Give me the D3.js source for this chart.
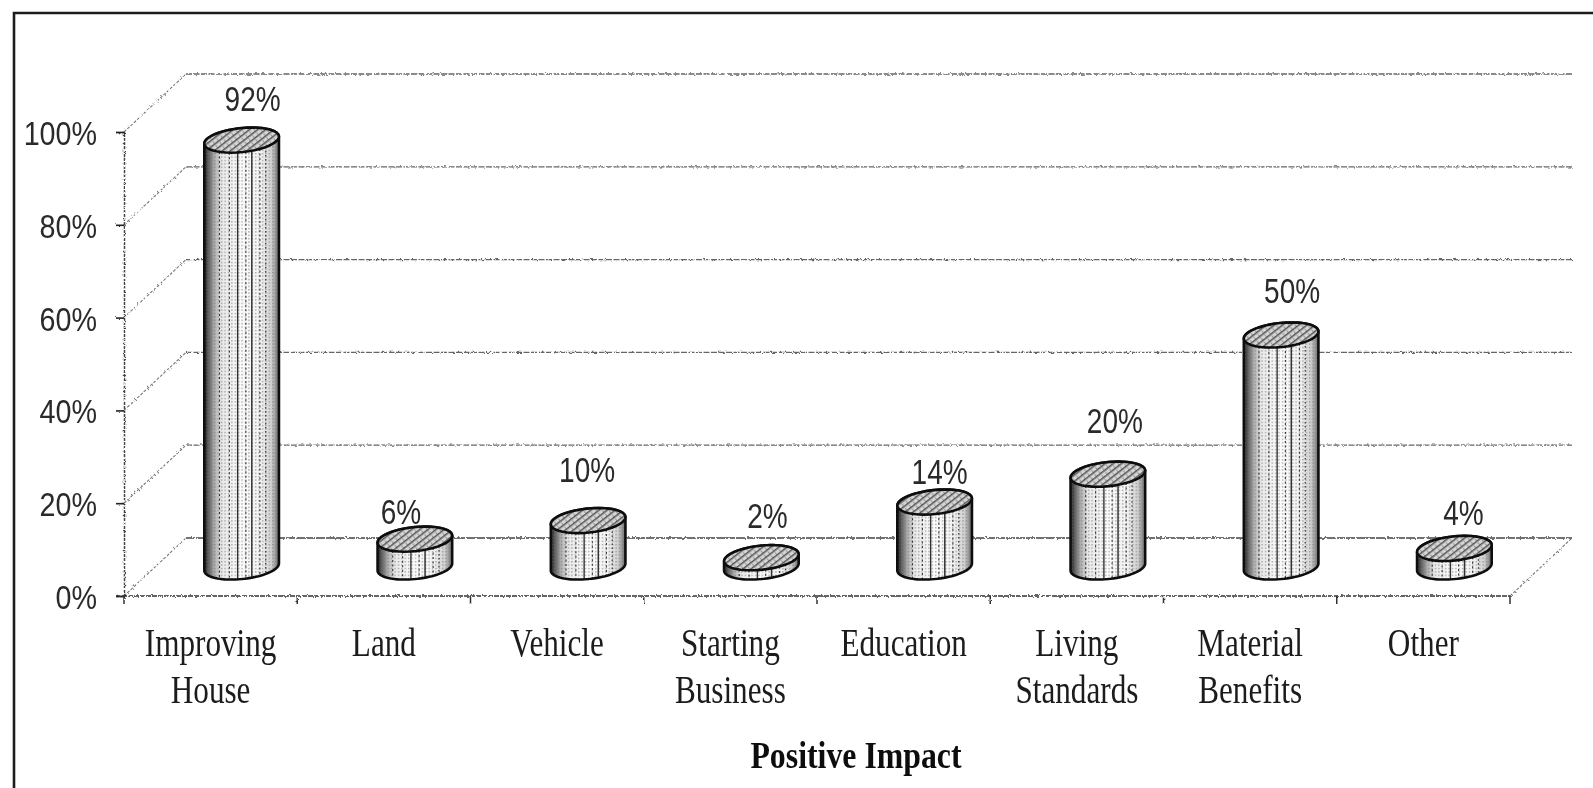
<!DOCTYPE html>
<html><head><meta charset="utf-8">
<script src="https://cdn.jsdelivr.net/npm/d3@7"></script>
<style>html,body{margin:0;padding:0;background:#fff;overflow:hidden}svg{display:block}</style>
</head><body><svg id="c" width="1593" height="788"></svg>
<script>
const categories = ["Improving House","Land","Vehicle","Starting Business","Education","Living Standards","Material Benefits","Other"];
const categoryLines = [["Improving","House"],["Land"],["Vehicle"],["Starting","Business"],["Education"],["Living","Standards"],["Material","Benefits"],["Other"]];
const values = [92,6,10,2,14,20,50,4];
const yTicks = [0,20,40,60,80,100];
const xTitle = "Positive Impact";
// hand placement of the value labels relative to each cylinder top
const labelNudgeX = [11,-14,-1,6,5,7,11,9];
const labelNudgeY = [-42,-28,-52,-43,-31,-54,-45,-36];

const W=1593,H=788, X0=124,X1=1510,Y0=596,Y1=132, DX=62,DY=-58;
const SANS='"Liberation Sans",Arial,sans-serif', SERIF='"Liberation Serif","Times New Roman",serif';
const svg=d3.select("#c");
const defs=svg.append("defs");
const x=d3.scaleBand().domain(categories).range([X0,X1]);
const y=d3.scaleLinear().domain([0,100]).range([Y0,Y1]);

// scan-like filters
const rough=defs.append("filter").attr("id","rough").attr("filterUnits","userSpaceOnUse")
  .attr("x",-400).attr("y",-100).attr("width",W+800).attr("height",H+200);
rough.append("feTurbulence").attr("type","fractalNoise").attr("baseFrequency",0.4).attr("numOctaves",2).attr("seed",4).attr("result","n");
rough.append("feDisplacementMap").attr("in","SourceGraphic").attr("in2","n").attr("scale",3).attr("result","d");
rough.append("feGaussianBlur").attr("in","d").attr("stdDeviation",0.55);
const soft=defs.append("filter").attr("id","soft").attr("filterUnits","userSpaceOnUse")
  .attr("x",-400).attr("y",-100).attr("width",W+800).attr("height",H+200);
soft.append("feGaussianBlur").attr("stdDeviation",0.5);

const grad=defs.append("linearGradient").attr("id","bodyGrad");
[[0,"#222"],[.05,"#555"],[.13,"#a8a8a8"],[.23,"#e8e8e8"],[.5,"#fbfbfb"],[.76,"#f2f2f2"],[.9,"#cfcfcf"],[1,"#6a6a6a"]]
 .forEach(s=>grad.append("stop").attr("offset",s[0]).attr("stop-color",s[1]));
const dots=defs.append("pattern").attr("id","dots").attr("width",3.4).attr("height",3.4).attr("patternUnits","userSpaceOnUse");
dots.append("rect").attr("width",1.4).attr("height",1.4).attr("fill","#777").attr("opacity",.6);
const hatch=defs.append("pattern").attr("id","hatch").attr("width",5).attr("height",5).attr("patternUnits","userSpaceOnUse").attr("patternTransform","rotate(-38)");
hatch.append("rect").attr("width",5).attr("height",5).attr("fill","#d6d6d6");
hatch.append("rect").attr("width",5).attr("height",1.5).attr("fill","#555");
hatch.append("rect").attr("y",2.5).attr("width",1.1).attr("height",2.5).attr("fill","#999");

svg.append("rect").attr("width",W).attr("height",H).attr("fill","#fff");

// frame: top and left only
svg.append("path").attr("d",d3.line()([[14,788],[14,13],[1593,13]])).attr("fill","none").attr("stroke","#1a1a1a").attr("stroke-width",2.6).attr("filter","url(#soft)");

// walls
const grid=svg.append("g").attr("filter","url(#rough)").attr("fill","none").attr("stroke","#666");
yTicks.forEach(t=>{
  grid.append("path").attr("stroke-width",t===0?1.6:1.3).attr("stroke",t===0?"#444":"#666").attr("stroke-dasharray",t===0?"9 1":"6 1.5")
    .attr("d",d3.line()([[X0+DX,y(t)+DY],[X1+DX,y(t)+DY]]));
  grid.append("path").attr("stroke-width",1.1).attr("stroke","#777").attr("stroke-dasharray","3 1.5")
    .attr("d",d3.line()([[X0,y(t)],[X0+DX,y(t)+DY]]));
});
grid.append("path").attr("stroke-width",1.1).attr("stroke","#777").attr("stroke-dasharray","3 1.5")
  .attr("d",d3.line()([[X1,Y0],[X1+DX,Y0+DY]]));

// y axis
const yAxis=svg.append("g").attr("transform",`translate(${X0},0)`).call(d3.axisLeft(y).tickValues(yTicks).tickSize(8).tickPadding(27).tickFormat(d=>d+"%"));
yAxis.select(".domain").attr("stroke","#444").attr("stroke-width",1.5).attr("stroke-dasharray","3 1").attr("filter","url(#rough)");
yAxis.selectAll(".tick line").attr("stroke","#222").attr("stroke-width",1.6).attr("filter","url(#rough)");
yAxis.selectAll(".tick text").attr("x",0).attr("dy",null).attr("dominant-baseline",null)
  .attr("transform",`translate(-27,12.5) scale(.87,1)`).attr("filter","url(#soft)")
  .attr("font-family",SANS).attr("font-size",33).attr("fill","#2a2a2a").attr("text-anchor","end");

// x axis
const xAxis=svg.append("g").attr("transform",`translate(0,${Y0})`);
xAxis.append("path").attr("d",d3.line()([[X0-8,0],[X1,0]])).attr("stroke","#333").attr("stroke-width",1.7).attr("stroke-dasharray","5 1").attr("fill","none").attr("filter","url(#rough)");
xAxis.selectAll("line.t").data(d3.range(categories.length+1)).join("line").attr("class","t")
  .attr("x1",i=>X0+i*x.step()).attr("x2",i=>X0+i*x.step()).attr("y1",0).attr("y2",8)
  .attr("stroke","#333").attr("stroke-width",1.5).attr("filter","url(#rough)");

// cylinders
const RX=37.5,RY=12,PHI=-6*Math.PI/180;
const cx=c=>x(c)+x.bandwidth()/2+DX/2;
const baseY=Y0+DY/2;
const topY=v=>y(v)+DY/2;
const pt=(cxv,cyv,t)=>[cxv+RX*Math.cos(t)*Math.cos(PHI)-RY*Math.sin(t)*Math.sin(PHI),
                        cyv+RX*Math.cos(t)*Math.sin(PHI)+RY*Math.sin(t)*Math.cos(PHI)];
const tR=Math.atan2(-RY*Math.sin(PHI),RX*Math.cos(PHI));
const tL=tR+Math.PI;
const arc=(a,b,cxv,cyv)=>d3.range(0,41).map(i=>pt(cxv,cyv,a+(b-a)*i/40));
const closedLine=d3.line().curve(d3.curveLinearClosed);
const stripes=[[-.62,"2 2.5",1.1],[-.36,"2 2.5",1.1],[-.14,null,1.4],[.08,"2 2.5",1.1],[.24,null,1.5],[.46,"2 2.5",1.1],[.62,"1.5 2.5",1.2]];
const cyl=svg.append("g").attr("filter","url(#soft)");
values.forEach((v,i)=>{
  const c=categories[i],xc=cx(c),ty=topY(v);
  const outline=[...arc(tR,tL,xc,baseY),...arc(tL,tR+2*Math.PI,xc,ty)];
  const g=cyl.append("g").datum(v);
  const d=closedLine(outline);
  g.append("path").attr("d",d).attr("fill","url(#bodyGrad)");
  g.append("path").attr("d",d).attr("fill","url(#dots)");
  stripes.forEach(s=>{
    const t=Math.acos(s[0]);
    const a=pt(xc,ty,t),b=pt(xc,baseY,t);
    g.append("line").attr("x1",a[0]).attr("y1",a[1]).attr("x2",b[0]).attr("y2",b[1])
      .attr("stroke","#333").attr("stroke-width",s[2]).attr("stroke-dasharray",s[1]);
  });
  g.append("path").attr("d",d).attr("fill","none").attr("stroke","#111").attr("stroke-width",2.6).attr("stroke-linejoin","round");
  g.append("path").attr("d",closedLine(arc(0,2*Math.PI,xc,ty))).attr("fill","url(#hatch)").attr("stroke","#111").attr("stroke-width",2.6);
});

// value labels
svg.append("g").attr("filter","url(#soft)").selectAll("text").data(values).join("text")
  .attr("transform",(v,i)=>`translate(${cx(categories[i])+labelNudgeX[i]},${topY(v)+labelNudgeY[i]+13}) scale(.8,1)`)
  .attr("text-anchor","middle").attr("font-family",SANS).attr("font-size",35).attr("fill","#2a2a2a")
  .text(v=>v+"%");

// category labels
const lab=svg.append("g").attr("filter","url(#soft)");
categoryLines.forEach((lines,i)=>{
  lines.forEach((s,j)=>{
    lab.append("text").attr("transform",`translate(${x(categories[i])+x.bandwidth()/2},${656+j*47}) scale(.8,1)`)
      .attr("text-anchor","middle").attr("font-family",SERIF).attr("font-size",39).attr("fill","#1a1a1a").text(s);
  });
});
// axis title
lab.append("text").attr("transform",`translate(856,768) scale(.86,1)`).attr("text-anchor","middle")
  .attr("font-family",SERIF).attr("font-weight","bold").attr("font-size",37).attr("fill","#111").text(xTitle);
</script></body></html>
